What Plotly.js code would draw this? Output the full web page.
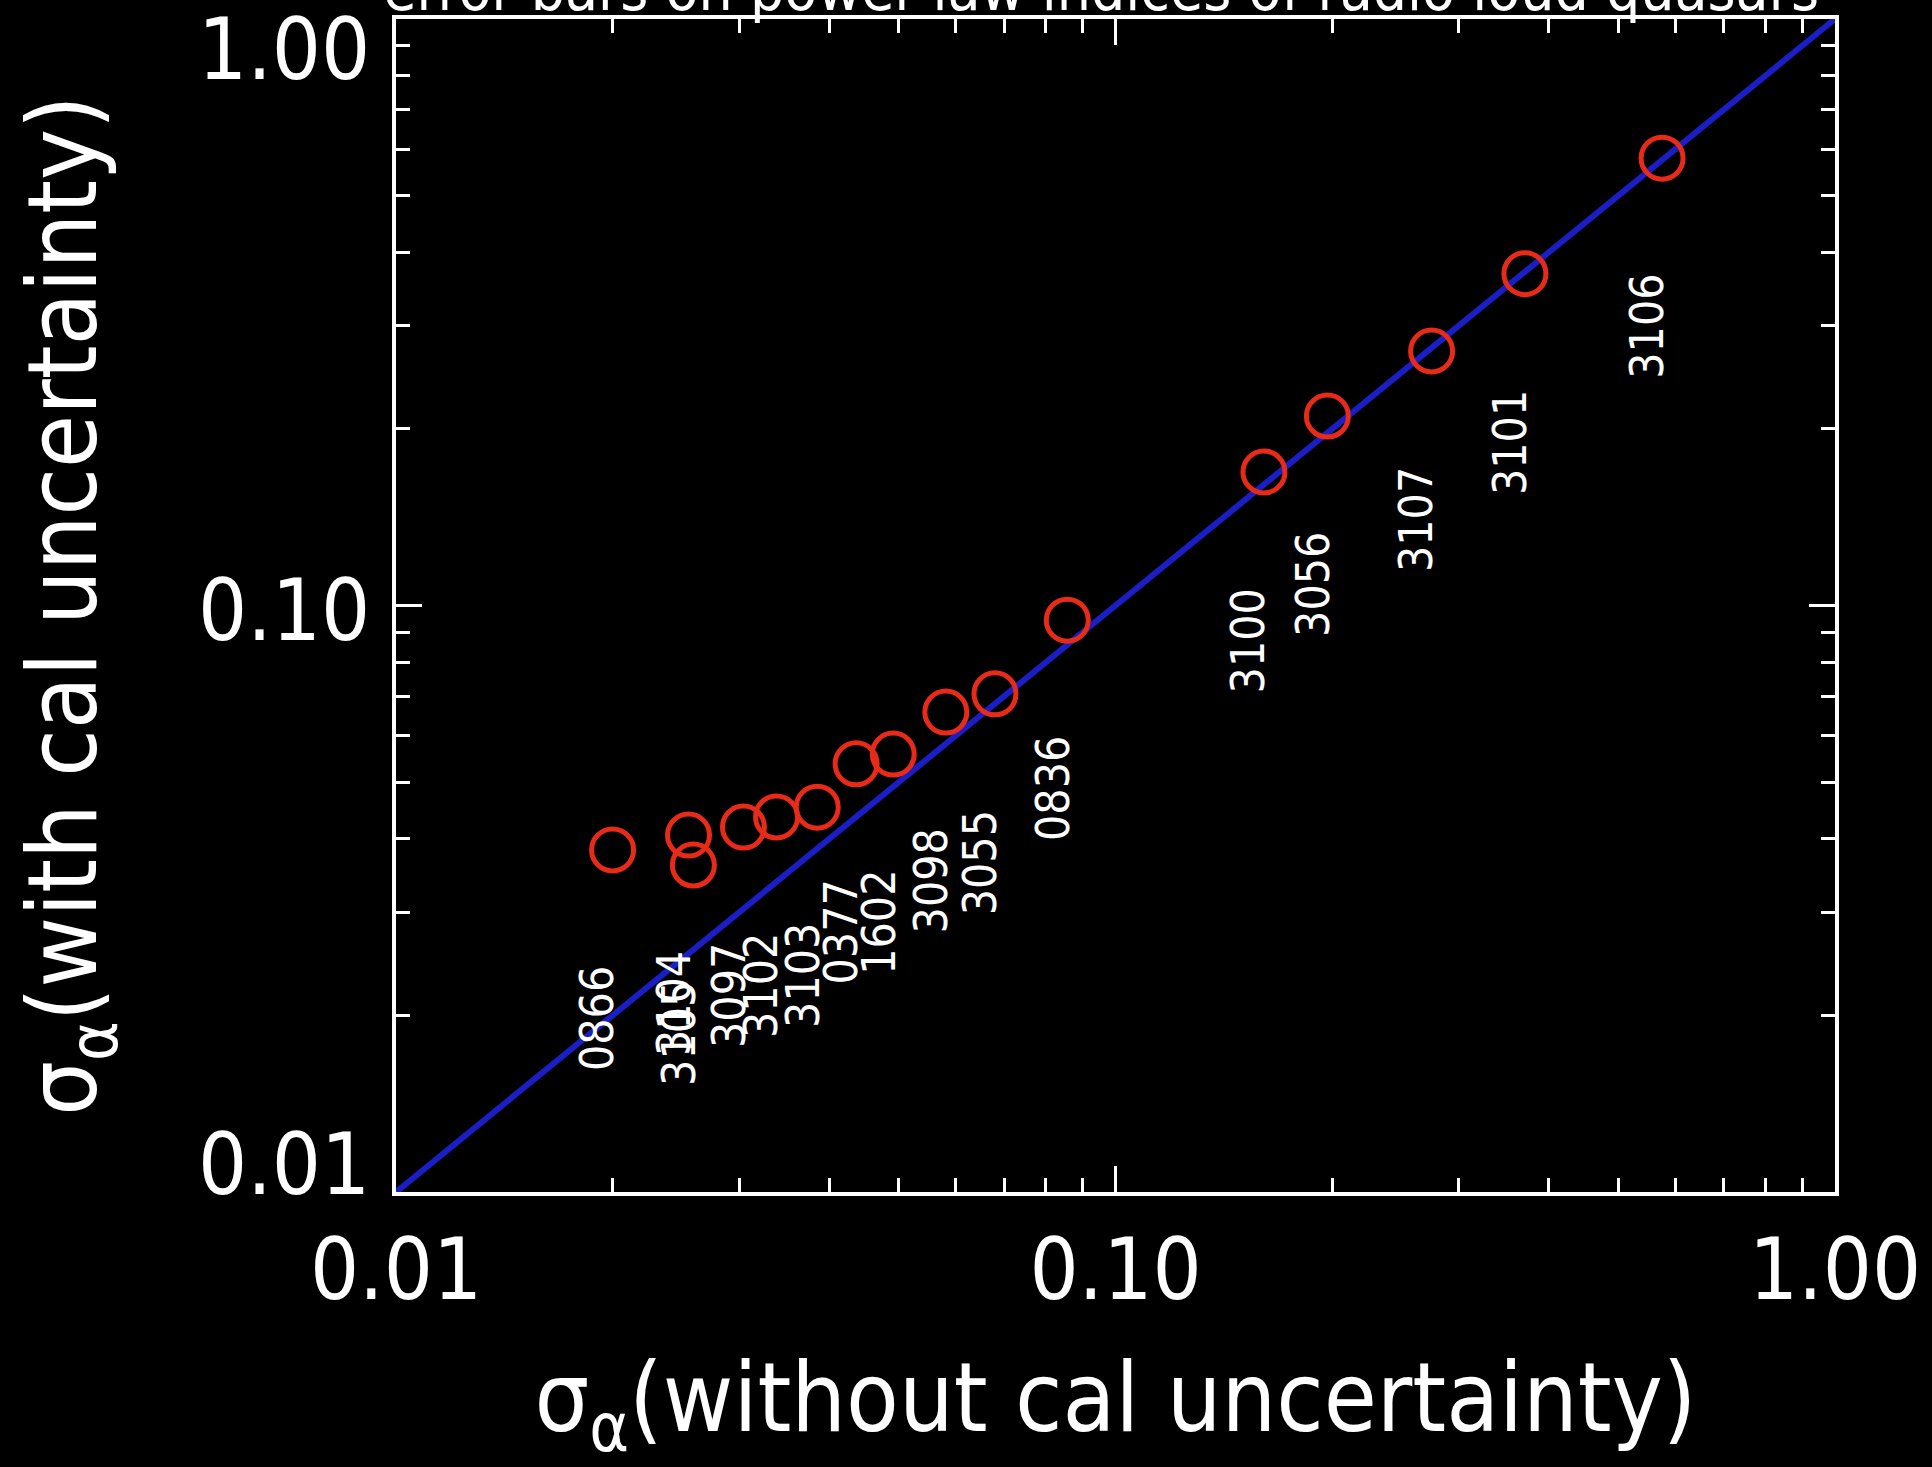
<!DOCTYPE html>
<html>
<head>
<meta charset="utf-8">
<script src="https://cdn.plot.ly/plotly-3.0.1.min.js"></script>
<style>
  html, body { margin: 0; padding: 0; background: #000; }
  #chart { width: 1932px; height: 1467px; }
</style>
</head>
<body>
<div id="chart"></div>
<script>
// ---- data ----
const sourceNames = ["0866", "3104", "3105", "3097", "3102", "3103", "0377", "1602",
                     "3098", "3055", "0836", "3100", "3056", "3107", "3101", "3106"];
const sigmaWithout = [0.0200, 0.0255, 0.0259, 0.0304, 0.0338, 0.0385, 0.0436, 0.0491,
                      0.0581, 0.0680, 0.0857, 0.1608, 0.197, 0.275, 0.3707, 0.575];
const sigmaWith = [0.0383, 0.0406, 0.0361, 0.0419, 0.0436, 0.0453, 0.0537, 0.0558,
                   0.0658, 0.0707, 0.0944, 0.1689, 0.2104, 0.2716, 0.368, 0.579];
const oneToOneX = [0.01, 1.0];
const oneToOneY = [0.01, 1.0];
const tickVals = [0.01, 0.1, 1.0];
const tickText = ["0.01", "0.10", "1.00"];
const labelDivisor = 2.4;          // labels drawn at sigmaWith / 2.4 (below each point)
const yLabelAnchors = [0.01116, 0.0982, 0.889]; // where IDL drew the y tick labels

const FONT = "'DejaVu Sans Condensed', 'Liberation Sans Narrow', 'DejaVu Sans', sans-serif";

const traces = [
  {
    x: oneToOneX, y: oneToOneY, mode: "lines", type: "scatter",
    line: { color: "#1a1ec4", width: 6 }, hoverinfo: "skip", showlegend: false
  },
  {
    x: sigmaWithout, y: sigmaWith, mode: "markers", type: "scatter",
    marker: { symbol: "circle-open", size: 42, line: { color: "#e82a18", width: 5 }, color: "#e82a18" },
    text: sourceNames, showlegend: false
  }
];

const pointLabels = sourceNames.map((name, i) => ({
  x: Math.log10(sigmaWithout[i]),
  y: Math.log10(sigmaWith[i] / labelDivisor),
  xref: "x", yref: "y",
  text: name, showarrow: false, textangle: -90,
  xanchor: "center", yanchor: "bottom", xshift: -15,
  font: { family: FONT, size: 46, color: "#ffffff" }
}));

// y tick labels, placed where IDL placed them (end labels pulled inside the frame)
const yTickLabels = tickText.map((t, i) => ({
  x: -0.017, xref: "paper",
  y: Math.log10(yLabelAnchors[i]), yref: "y",
  text: t, showarrow: false, xanchor: "right", yanchor: "middle",
  font: { family: FONT, size: 86, color: "#ffffff" }
}));

const axisCommon = {
  type: "log",
  showgrid: false, zeroline: false,
  showline: true, linecolor: "#ffffff", linewidth: 4,
  mirror: "allticks",
  ticks: "inside", ticklen: 26, tickwidth: 3, tickcolor: "#ffffff",
  minor: { dtick: "D1", ticks: "inside", ticklen: 14, tickwidth: 3, tickcolor: "#ffffff", showgrid: false },
  range: [-2, 0]
};

const layout = {
  width: 1932, height: 1467,
  paper_bgcolor: "#000000", plot_bgcolor: "#000000",
  margin: { l: 396, r: 97, t: 19, b: 275 },
  showlegend: false,
  title: {
    text: "error bars on power-law indices of radio loud quasars",
    font: { family: FONT, size: 60, color: "#ffffff" },
    xref: "paper", x: 0.49, xanchor: "center",
    yref: "container", y: 0.993, yanchor: "bottom"
  },
  xaxis: Object.assign({}, axisCommon, {
    tickmode: "array", tickvals: tickVals, ticktext: tickText,
    tickfont: { family: FONT, size: 86, color: "#ffffff" },
    ticklabelstandoff: 0,
    title: { text: "σ<sub>α</sub>(without cal uncertainty)", font: { family: FONT, size: 96, color: "#ffffff" }, standoff: 55 }
  }),
  yaxis: Object.assign({}, axisCommon, {
    tickmode: "array", tickvals: tickVals, ticktext: tickText,
    showticklabels: false,
    title: { text: "σ<sub>α</sub>(with cal uncertainty)", font: { family: FONT, size: 96, color: "#ffffff" }, standoff: 264 }
  }),
  annotations: pointLabels.concat(yTickLabels)
};

Plotly.newPlot("chart", traces, layout, { staticPlot: true, displayModeBar: false });
</script>
</body>
</html>
